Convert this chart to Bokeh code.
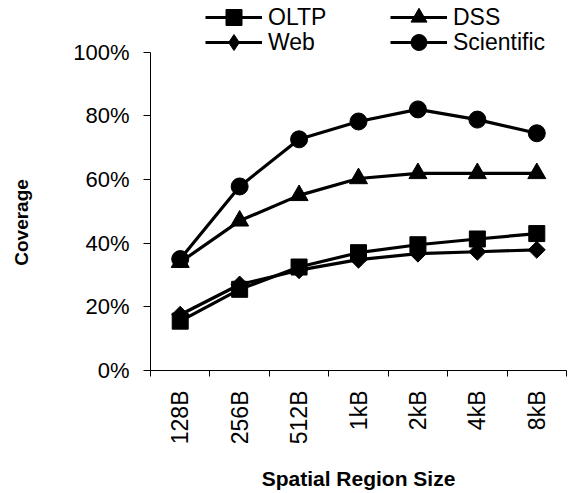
import math
from bokeh.plotting import figure
from bokeh.models import (Range1d, FixedTicker, NumeralTickFormatter, Legend, LegendItem)
from bokeh.embed import file_html
from bokeh.resources import INLINE

sizes = ["128B", "256B", "512B", "1kB", "2kB", "4kB", "8kB"]
oltp = [0.155, 0.255, 0.325, 0.37, 0.395, 0.413, 0.43]
dss = [0.34, 0.47, 0.55, 0.603, 0.619, 0.619, 0.619]
web = [0.175, 0.27, 0.315, 0.348, 0.367, 0.373, 0.379]
scientific = [0.35, 0.578, 0.726, 0.782, 0.82, 0.788, 0.745]
y_ticks = [0, 0.2, 0.4, 0.6, 0.8, 1.0]

xpos = [i + 0.5 for i in range(len(sizes))]
FONT = "Liberation Sans"

p = figure(width=568, height=493, output_backend="svg", toolbar_location=None,
           x_range=Range1d(0, len(sizes)), y_range=Range1d(0, 373 / 321),
           min_border_left=150, min_border_right=2, min_border_top=0,
           min_border_bottom=120)
p.outline_line_color = None
p.xgrid.visible = False
p.ygrid.visible = False

series = [
    ("OLTP", oltp, dict(marker="square", size=16)),
    ("DSS", dss, dict(marker="triangle", size=18)),
    ("Web", web, dict(marker="square", size=12, angle=math.pi / 4)),
    ("Scientific", scientific, dict(marker="circle", size=17)),
]
item_map = {}
for name, vals, mk in series:
    l = p.line(xpos, vals, line_color="black", line_width=3.2)
    s = p.scatter(xpos, vals, fill_color="black", line_color="black", **mk)
    rends = [l, s]
    if name == "Web":
        # hidden twin so the legend shows a diamond glyph
        proxy = p.scatter(xpos, vals, marker="diamond", fill_color="black",
                          line_color="black", size=12, visible=False)
        rends = [l, proxy]
    item_map[name] = LegendItem(label=name, renderers=rends)

# one legend per entry: (name, x offset from frame left, bottom offset from frame bottom)
legend_pos = [("OLTP", 55, 333), ("DSS", 240, 333),
              ("Web", 55, 308), ("Scientific", 240, 308)]
for name, lx, ly in legend_pos:
    lg = Legend(items=[item_map[name]], location=(lx, ly),
                glyph_width=57, glyph_height=40, label_height=40, spacing=0,
                label_standoff=6, padding=0, margin=0,
                label_text_font=FONT, label_text_font_size="23px",
                label_text_color="black", border_line_color=None,
                background_fill_alpha=0)
    p.add_layout(lg, "center")

xa = p.xaxis[0]
xa.ticker = FixedTicker(ticks=xpos, minor_ticks=list(range(len(sizes) + 1)))
xa.major_label_overrides = {x: s for x, s in zip(xpos, sizes)}
xa.major_label_orientation = math.pi / 2
xa.major_tick_in = 0
xa.major_tick_out = 0
xa.minor_tick_in = 0
xa.minor_tick_out = 6
xa.minor_tick_line_color = "black"
xa.major_label_standoff = 14
xa.major_label_text_font = FONT
xa.major_label_text_font_size = "23px"
xa.major_label_text_color = "black"
xa.axis_label = "Spatial Region Size"
xa.axis_label_text_font = FONT
xa.axis_label_text_font_size = "21px"
xa.axis_label_text_font_style = "bold"
xa.axis_label_text_color = "black"
xa.axis_label_standoff = 20
xa.axis_line_color = "black"

ya = p.yaxis[0]
ya.ticker = FixedTicker(ticks=y_ticks, minor_ticks=[])
ya.formatter = NumeralTickFormatter(format="0%")
ya.bounds = (0, 1)
ya.major_tick_in = 0
ya.major_tick_out = 7
ya.major_tick_line_color = "black"
ya.major_label_standoff = 14
ya.major_label_text_font = FONT
ya.major_label_text_font_size = "22px"
ya.major_label_text_color = "black"
# trailing no-break spaces centre the visible word on the 0-100% span
ya.axis_label = "Coverage" + "\u00a0" * 14
ya.axis_label_text_font = FONT
ya.axis_label_text_font_size = "19px"
ya.axis_label_text_font_style = "bold"
ya.axis_label_text_color = "black"
ya.axis_label_standoff = 38
ya.axis_line_color = "black"

open("out.html", "w").write(file_html(p, INLINE))
